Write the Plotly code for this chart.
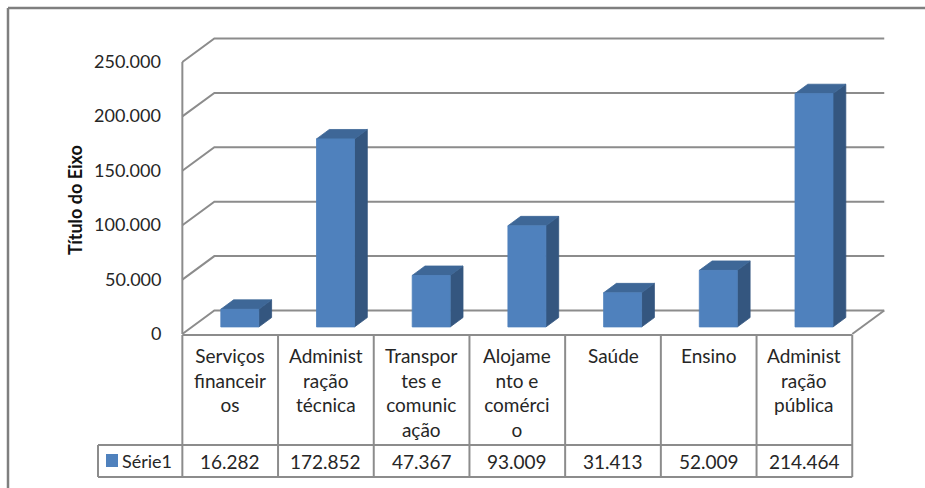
import plotly.graph_objects as go

# ---- data ---------------------------------------------------------------
categories = [
    "Serviços financeiros",
    "Administração técnica",
    "Transportes e comunicação",
    "Alojamento e comércio",
    "Saúde",
    "Ensino",
    "Administração pública",
]
category_labels = [
    "Serviços<br>financeir<br>os",
    "Administ<br>ração<br>técnica",
    "Transpor<br>tes e<br>comunic<br>ação",
    "Alojame<br>nto e<br>comérci<br>o",
    "Saúde",
    "Ensino",
    "Administ<br>ração<br>pública",
]
series_name = "Série1"
values = [16282, 172852, 47367, 93009, 31413, 52009, 214464]
tick_values = [0, 50000, 100000, 150000, 200000, 250000]
axis_title = "Título do Eixo"

# ---- page geometry ------------------------------------------------------
W, H = 925, 488
CAT_PX = 95.7            # width of one category slot in pixels
CAT0_PX = 230.2          # pixel x of the first category centre
ZERO_PX = 334.0          # pixel y of value 0 on the front plane
VAL_PX = 272.0 / 250000  # pixels per value unit

X_RANGE = [-CAT0_PX / CAT_PX, (W - CAT0_PX) / CAT_PX]
Y_RANGE = [(ZERO_PX - H) / VAL_PX, ZERO_PX / VAL_PX]

# oblique depth of the 3-D box, expressed in axis units
DX = 32.0 / CAT_PX
DY = 23.5 / VAL_PX
BAR_F0, BAR_F1 = 0.30, 0.70   # bar depth span (fraction of box depth)
BAR_HALF = 0.1985             # half bar width in category units


def ux(px):
    """pixel x -> category axis units"""
    return (px - CAT0_PX) / CAT_PX


def py(px):
    """pixel y -> paper fraction"""
    return 1 - px / H


FONT = "Lato, 'Open Sans', sans-serif"
TXT = "#262626"
GRID = "#8c8c8c"
FRONT = "#4F81BD"
SIDE = "#34567F"
TOP = "#3E6797"

fig = go.Figure()
shapes = []
annotations = []

# ---- walls, floor and gridlines -----------------------------------------
x_left = -0.5
x_right = len(categories) - 0.5
for v in tick_values:
    shapes.append(dict(type="path", xref="x", yref="y", layer="below",
                       path=f"M {x_left},{v} L {x_left + DX},{v + DY} L {x_right + DX},{v + DY}",
                       line=dict(color=GRID, width=2)))
# right edge of the floor
shapes.append(dict(type="line", xref="x", yref="y", layer="below",
                   x0=x_right, y0=0, x1=x_right + DX, y1=DY,
                   line=dict(color=GRID, width=2)))
# front vertical edge of the side wall
shapes.append(dict(type="line", xref="x", yref="y", layer="below",
                   x0=x_left, y0=0, x1=x_left, y1=tick_values[-1],
                   line=dict(color=GRID, width=2)))

# tick labels
for v in tick_values:
    annotations.append(dict(x=x_left, y=v, xref="x", yref="y",
                            text=f"{v:,}".replace(",", "."),
                            showarrow=False, xanchor="right", yanchor="middle",
                            xshift=-19, yshift=1,
                            font=dict(family=FONT, size=18, color=TXT)))

annotations.append(dict(x=75 / W, y=py(200), xref="paper", yref="paper",
                        text=f"<b>{axis_title}</b>", textangle=-90,
                        showarrow=False, xanchor="center", yanchor="middle",
                        font=dict(family=FONT, size=18, color="#111111")))

# ---- 3-D columns ----------------------------------------------------------
ddx = (BAR_F1 - BAR_F0) * DX
ddy = (BAR_F1 - BAR_F0) * DY
for i, v in enumerate(values):
    xl = i - BAR_HALF + BAR_F0 * DX
    xr = i + BAR_HALF + BAR_F0 * DX
    yb = BAR_F0 * DY
    yt = yb + v
    faces = [
        ([xr, xr + ddx, xr + ddx, xr, xr], [yb, yb + ddy, yt + ddy, yt, yb], SIDE),
        ([xl, xr, xr + ddx, xl + ddx, xl], [yt, yt, yt + ddy, yt + ddy, yt], TOP),
        ([xl, xr, xr, xl, xl], [yb, yb, yt, yt, yb], FRONT),
    ]
    for fx, fy, col in faces:
        fig.add_trace(go.Scatter(x=fx, y=fy, mode="lines", fill="toself",
                                 fillcolor=col, line=dict(color=col, width=0.8),
                                 hoverinfo="skip", showlegend=False))

# ---- data table -----------------------------------------------------------
TBL_TOP, TBL_MID, TBL_BOT = 335, 445, 477
KEY_LEFT = 98
tbl = dict(color=GRID, width=2)
shapes.append(dict(type="line", xref="x", yref="paper", x0=x_left, x1=x_right,
                   y0=py(TBL_TOP), y1=py(TBL_TOP), line=tbl))
for yy in (TBL_MID, TBL_BOT):
    shapes.append(dict(type="line", xref="x", yref="paper", x0=ux(KEY_LEFT), x1=x_right,
                       y0=py(yy), y1=py(yy), line=tbl))
for k in range(len(categories) + 1):
    shapes.append(dict(type="line", xref="x", yref="paper", x0=k - 0.5, x1=k - 0.5,
                       y0=py(TBL_TOP), y1=py(TBL_BOT), line=tbl))
shapes.append(dict(type="line", xref="x", yref="paper", x0=ux(KEY_LEFT), x1=ux(KEY_LEFT),
                   y0=py(TBL_MID), y1=py(TBL_BOT), line=tbl))

# legend key
shapes.append(dict(type="rect", xref="x", yref="paper", x0=ux(106), x1=ux(118),
                   y0=py(467), y1=py(454), fillcolor=FRONT, line=dict(width=0)))
annotations.append(dict(x=ux(120), y=py(461), xref="x", yref="paper", text=series_name,
                        showarrow=False, xanchor="left", yanchor="middle",
                        font=dict(family=FONT, size=18, color=TXT)))

for i, (lab, v) in enumerate(zip(category_labels, values)):
    annotations.append(dict(x=i, y=py(342), xref="x", yref="paper", text=lab,
                            showarrow=False, xanchor="center", yanchor="top",
                            align="center",
                            font=dict(family=FONT, size=19, color=TXT)))
    annotations.append(dict(x=i, y=py(461), xref="x", yref="paper",
                            text=f"{v:,}".replace(",", "."),
                            showarrow=False, xanchor="center", yanchor="middle",
                            font=dict(family=FONT, size=19, color=TXT)))

# ---- outer chart frame ------------------------------------------------------
shapes.append(dict(type="line", xref="paper", yref="paper", x0=8 / W, x1=1,
                   y0=py(8), y1=py(8), line=dict(color="#7f7f7f", width=2.5)))
shapes.append(dict(type="line", xref="paper", yref="paper", x0=8 / W, x1=8 / W,
                   y0=py(8), y1=0, line=dict(color="#7f7f7f", width=2.5)))

fig.update_layout(
    width=W, height=H,
    margin=dict(l=0, r=0, t=0, b=0),
    paper_bgcolor="white", plot_bgcolor="white",
    xaxis=dict(range=X_RANGE, visible=False, fixedrange=True),
    yaxis=dict(range=Y_RANGE, visible=False, fixedrange=True),
    shapes=shapes, annotations=annotations,
    showlegend=False,
)

fig.write_html("out.html")
